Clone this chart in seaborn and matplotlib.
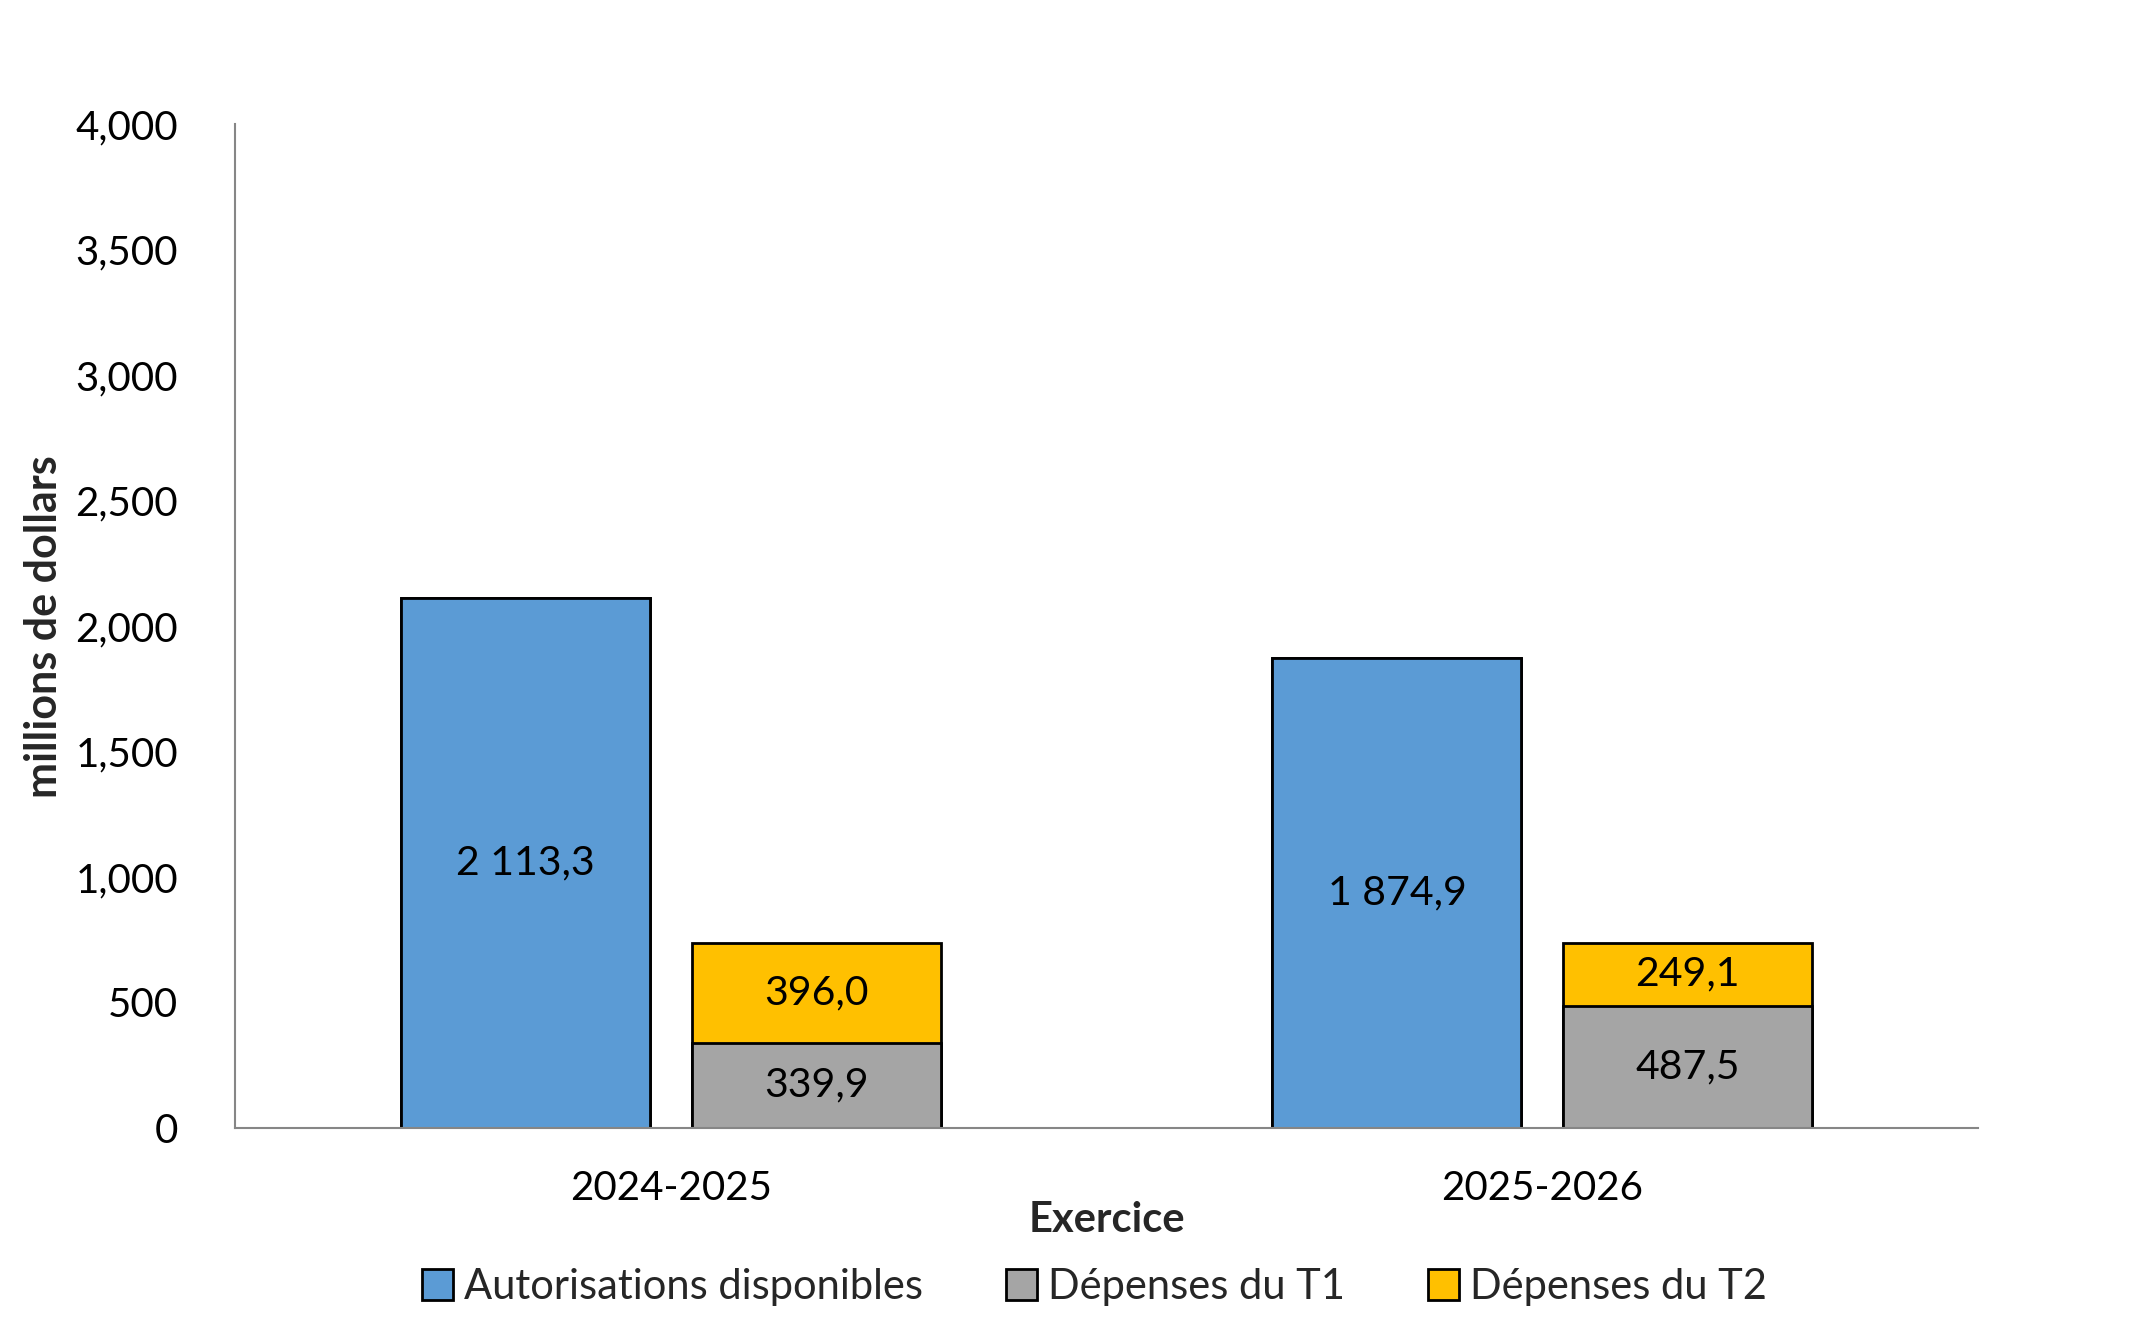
import numpy as np
import pandas as pd
import matplotlib.pyplot as plt
import matplotlib.ticker as mticker
from matplotlib.patches import Patch
import seaborn as sns

sns.set_theme(style="white")
plt.rcParams['font.family'] = ['Lato', 'DejaVu Sans']

# data
exercices = ["2024-2025", "2025-2026"]
autorisations = [2113.3, 1874.9]
depenses_t1 = [339.9, 487.5]
depenses_t2 = [396.0, 249.1]

series_names = ["Autorisations disponibles", "Dépenses du T1", "Dépenses du T2"]
colors = {"Autorisations disponibles": "#5B9BD5",
          "Dépenses du T1": "#A5A5A5",
          "Dépenses du T2": "#FFC000"}

axis_grey = "#868686"


def fr(v):
    return f"{v:,.1f}".replace(",", " ").replace(".", ",")


totals = [a + b for a, b in zip(depenses_t1, depenses_t2)]

# two slots per year: blue bar, and the stacked spending bar
top = pd.DataFrame({
    "Exercice": exercices * 2,
    "slot": ["A"] * 2 + ["D"] * 2,
    "valeur": autorisations + totals,
})
bottom = pd.DataFrame({
    "Exercice": exercices * 2,
    "slot": ["A"] * 2 + ["D"] * 2,
    "valeur": autorisations + depenses_t1,
})

fig = plt.figure(figsize=(21.37, 13.38), dpi=100)
ax = fig.add_axes([0.110, 0.157, 0.8156, 0.750])

kw = dict(x="Exercice", y="valeur", hue="slot", hue_order=["A", "D"],
          order=exercices, width=0.667, gap=0.143, edgecolor="black",
          linewidth=2, legend=False, ax=ax, saturation=1)
sns.barplot(data=top, palette={"A": colors[series_names[0]], "D": colors[series_names[2]]}, **kw)
sns.barplot(data=bottom, palette={"A": colors[series_names[0]], "D": colors[series_names[1]]}, **kw)

# labels in the middle of each segment
lab_kw = dict(ha="center", va="center", fontsize=29.5, color="black")
top_bars = ax.containers[1]
low_bars = ax.containers[3]
blue_bars = ax.containers[2]
for i in range(len(exercices)):
    b = blue_bars[i]
    ax.text(b.get_x() + b.get_width() / 2, autorisations[i] / 2, fr(autorisations[i]), **lab_kw)
    g = low_bars[i]
    ax.text(g.get_x() + g.get_width() / 2, depenses_t1[i] / 2, fr(depenses_t1[i]), **lab_kw)
    y = top_bars[i]
    ax.text(y.get_x() + y.get_width() / 2, depenses_t1[i] + depenses_t2[i] / 2,
            fr(depenses_t2[i]), **lab_kw)

ax.set_ylim(0, 4000)
ax.set_xlim(-0.5, 1.5)
ax.yaxis.set_major_locator(mticker.MultipleLocator(500))
ax.yaxis.set_major_formatter(mticker.FuncFormatter(lambda v, p: f"{int(v):,}"))
ax.set_xticks([-0.5, 0.5, 1.5], minor=True)
ax.tick_params(axis="x", which="major", length=0, labelsize=29, pad=30)
ax.tick_params(axis="x", which="minor", length=12, width=1.5, color=axis_grey, direction="out")
ax.tick_params(axis="y", length=17, width=1.5, color=axis_grey, direction="out",
               labelsize=29, pad=24)
ax.tick_params(axis="both", labelcolor="black")

for s in ["top", "right"]:
    ax.spines[s].set_visible(False)
for s in ["left", "bottom"]:
    ax.spines[s].set_color(axis_grey)
    ax.spines[s].set_linewidth(1.5)

ax.set_xlabel("Exercice", fontsize=30, fontweight="bold", labelpad=-4)
ax.set_ylabel("millions de dollars", fontsize=31, fontweight="bold", labelpad=8)

handles = [Patch(facecolor=colors[n], edgecolor="black", linewidth=2, label=n) for n in series_names]
fig.legend(handles=handles, loc="center", bbox_to_anchor=(0.512, 0.038), ncol=3,
           frameon=False, fontsize=30, handlelength=0.75, handleheight=0.75,
           handletextpad=0.25, columnspacing=2.0)

fig.savefig("out.png", dpi=100, facecolor="white")
